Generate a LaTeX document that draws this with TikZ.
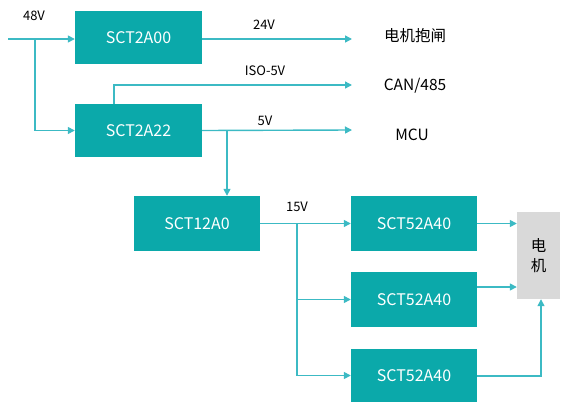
\documentclass[tikz,border=0pt]{standalone}
\usepackage{fontspec}
\setmainfont{Noto Sans CJK SC}
\usetikzlibrary{arrows.meta}
\definecolor{boxteal}{RGB}{11,169,170}
\definecolor{lineteal}{RGB}{60,186,196}
\definecolor{motorgray}{RGB}{217,217,217}
\begin{document}
\begin{tikzpicture}[x=1pt,y=-1pt,
  chip/.style={draw=none,fill=boxteal,text=white,minimum width=127pt,minimum height=53pt,inner sep=0pt,font=\fontsize{16}{19}\selectfont},
  wire/.style={draw=lineteal,line width=1.4pt},
  arr/.style={wire,-{Triangle[length=7pt,width=7pt]}},
  lbl/.style={font=\fontsize{13}{15}\selectfont,text=black,inner sep=0pt},
  outtxt/.style={font=\fontsize{15.5}{18}\selectfont,text=black,inner sep=0pt}]
\useasboundingbox (0,0) rectangle (562,402);
% boxes
\node[chip] (a00) at (138.5,37.5) {SCT2A00};
\node[chip] (a22) at (138.5,130.5) {SCT2A22};
\node[chip,minimum width=126pt,minimum height=55pt] (a12) at (197,223.5) {SCT12A0};
\node[chip,minimum width=126pt,minimum height=55pt] (b1) at (414,223.5) {SCT52A40};
\node[chip,minimum width=126pt,minimum height=55pt] (b2) at (414,299.5) {SCT52A40};
\node[chip,minimum width=126pt,minimum height=53pt] (b3) at (414,375.5) {SCT52A40};
\node[fill=motorgray,minimum width=43pt,minimum height=87pt,inner sep=0pt,align=center,font=\fontsize{15.5}{20}\selectfont] (mot) at (538.5,255.5) {电\\机};
% coordinates
\coordinate (in) at (8,39);
\coordinate (br48) at (35,39);
\coordinate (t24) at (352,39);
\coordinate (iso0) at (114,104);
\coordinate (iso1) at (114,85);
\coordinate (tiso) at (352,85);
\coordinate (t5) at (352,130);
\coordinate (br5) at (227,130);
\coordinate (br15) at (297,223);
\coordinate (m3) at (541,376);
% labels
\node[lbl] (l48) at (34,16) {48V};
\node[lbl] (l24) at (264,25) {24V};
\node[lbl] (liso) at (265,71) {ISO-5V};
\node[lbl] (l5) at (265,121) {5V};
\node[lbl] (l15) at (297,207) {15V};
\node[outtxt] (o1) at (415,36) {电机抱闸};
\node[outtxt] (o2) at (415,86) {CAN/485};
\node[outtxt] (o3) at (412,135) {MCU};
% connectors
\draw[arr] (in) -- (a00.west |- in);
\draw[arr] (br48) |- (a22.west);
\draw[arr] (a00.east |- t24) -- (t24);
\draw[arr] (iso0) -- (iso1) -- (tiso);
\draw[arr] (a22.east) -- (t5);
\draw[arr] (br5) -- (a12.north -| br5);
\draw[arr] (a12.east) -- (b1.west);
\draw[arr] (br15) |- (b2.west);
\draw[arr] (br15) |- (b3.west);
\draw[arr] (b1.east) -- (mot.west |- b1.east);
\draw[arr] (b2.east |- 0,287) -- (mot.west |- 0,287);
\draw[arr] (b3.east |- m3) -| (mot.south -| m3);
\end{tikzpicture}
\end{document}
